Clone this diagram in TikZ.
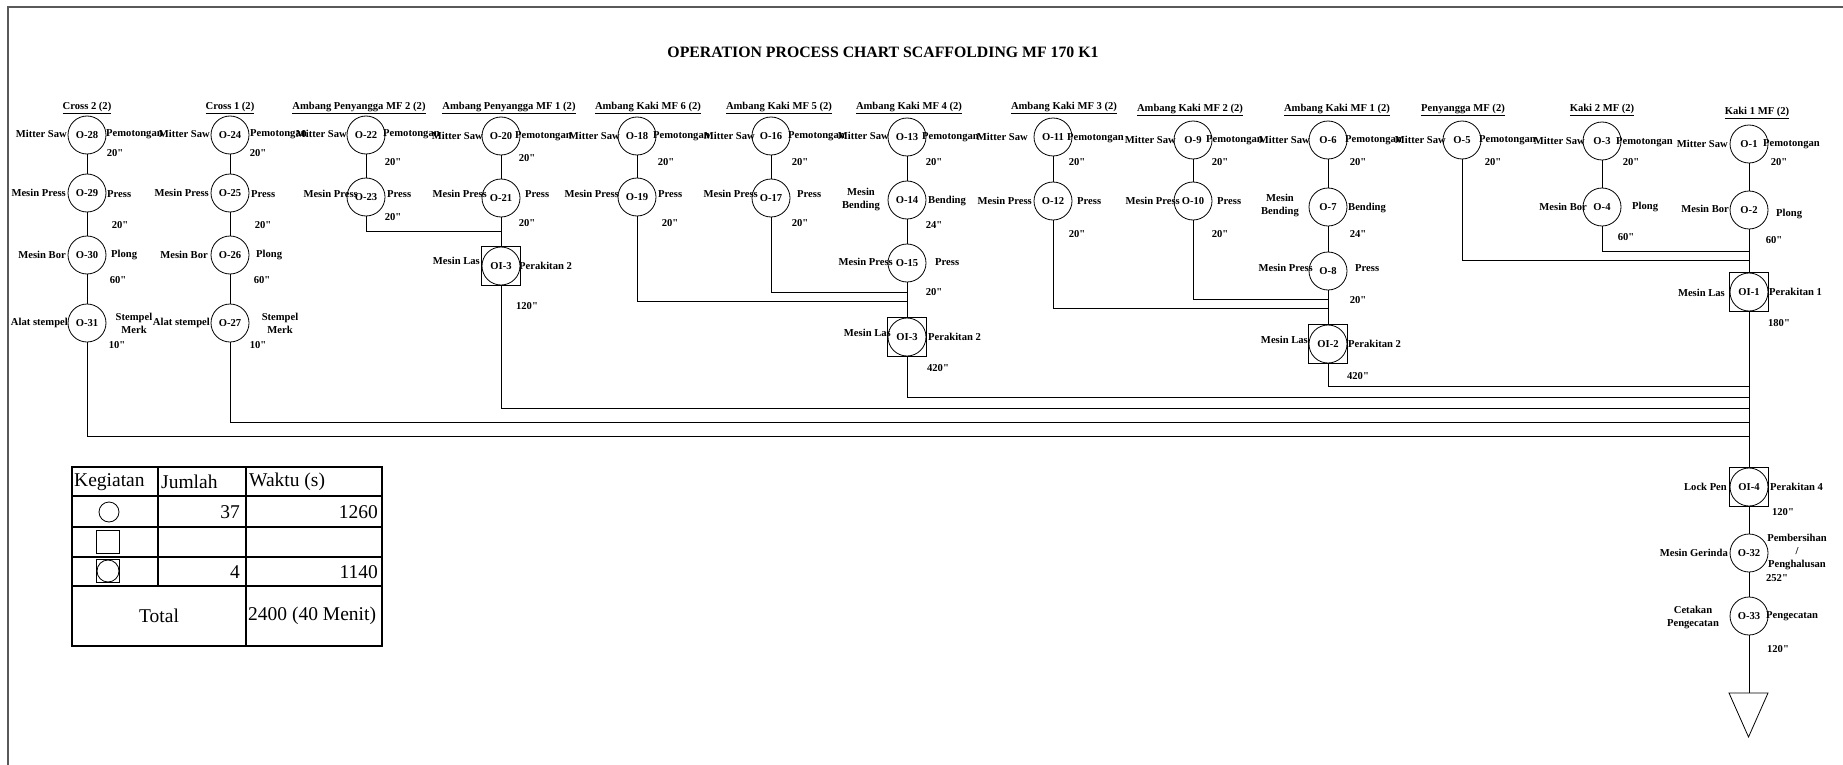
\documentclass[tikz,border=0pt]{standalone}
\usepackage{fontspec}
\setmainfont{Liberation Serif}[Ligatures=TeXOff]
\usetikzlibrary{positioning, calc}

\begin{document}
\begin{tikzpicture}[x=1pt, y=-1pt,
    op/.style={circle, draw, line width=0.8pt, minimum size=38pt, inner sep=0pt, font=\bfseries\fontsize{10.6}{13}\selectfont},
    opins/.style={rectangle, draw, line width=0.8pt, minimum size=39pt, inner sep=0pt, font=\bfseries\fontsize{10.6}{13}\selectfont,
        path picture={\draw[line width=0.8pt] (path picture bounding box.center) circle (19pt);}},
    lbl/.style={font=\bfseries\fontsize{10.6}{13}\selectfont, inner sep=0pt, align=center},
    flow/.style={line width=0.8pt},
    tab/.style={font=\fontsize{19.5}{22}\selectfont, inner sep=0pt}]
    \useasboundingbox (0,0) rectangle (1843,765);
    % Frame
    \draw[black!65, line width=1.5pt] (8,800) -- (8,7) -- (1900,7);
    \node[font=\bfseries\fontsize{15.8}{18}\selectfont] (title) at (883,52) {OPERATION PROCESS CHART SCAFFOLDING MF 170 K1};

    % Cross 2
    \node[lbl] (hc2) at (87,108) {\underline{Cross 2 (2)}};
    \node[op] (o28) at (87,135) {O-28};
    \node[op] (o29) at (87,193) {O-29};
    \node[op] (o30) at (87,255) {O-30};
    \node[op] (o31) at (87,323) {O-31};
    \node[lbl, anchor=east] (o28l) at (67,134) {Mitter Saw};
    \node[lbl, anchor=west] (o28r) at (106,134) {Pemotongan};
    \node[lbl] (o28t) at (115,153) {20"};
    \node[lbl, anchor=east] (o29l) at (66,193) {Mesin Press};
    \node[lbl, anchor=west] (o29r) at (107,194) {Press};
    \node[lbl] (o29t) at (120,225) {20"};
    \node[lbl, anchor=east] (o30l) at (66,255) {Mesin Bor};
    \node[lbl, anchor=west] (o30r) at (111,255) {Plong};
    \node[lbl] (o30t) at (118,280) {60"};
    \node[lbl, anchor=east] (o31l) at (68,323) {Alat stempel};
    \node[lbl] (o31r) at (134,323) {Stempel\\Merk};
    \node[lbl] (o31t) at (117,345) {10"};

    % Cross 1
    \node[lbl] (hc1) at (230,108) {\underline{Cross 1 (2)}};
    \node[op] (o24) at (230,135) {O-24};
    \node[op] (o25) at (230,193) {O-25};
    \node[op] (o26) at (230,255) {O-26};
    \node[op] (o27) at (230,323) {O-27};
    \node[lbl, anchor=east] (o24l) at (210,134) {Mitter Saw};
    \node[lbl, anchor=west] (o24r) at (250,134) {Pemotongan};
    \node[lbl] (o24t) at (258,153) {20"};
    \node[lbl, anchor=east] (o25l) at (209,193) {Mesin Press};
    \node[lbl, anchor=west] (o25r) at (251,194) {Press};
    \node[lbl] (o25t) at (263,225) {20"};
    \node[lbl, anchor=east] (o26l) at (208,255) {Mesin Bor};
    \node[lbl, anchor=west] (o26r) at (256,255) {Plong};
    \node[lbl] (o26t) at (262,280) {60"};
    \node[lbl, anchor=east] (o27l) at (210,323) {Alat stempel};
    \node[lbl] (o27r) at (280,323) {Stempel\\Merk};
    \node[lbl] (o27t) at (258,345) {10"};

    % Ambang Penyangga MF 2
    \node[lbl] (hap2) at (359,108) {\underline{Ambang Penyangga MF 2 (2)}};
    \node[op] (o22) at (366,135) {O-22};
    \node[op] (o23) at (366,197) {O-23};
    \node[lbl, anchor=east] (o22l) at (347,134) {Mitter Saw};
    \node[lbl, anchor=west] (o22r) at (383,134) {Pemotongan};
    \node[lbl] (o22t) at (393,162) {20"};
    \node[lbl, anchor=east] (o23l) at (358,194) {Mesin Press};
    \node[lbl, anchor=west] (o23r) at (387,194) {Press};
    \node[lbl] (o23t) at (393,217) {20"};

    % Ambang Penyangga MF 1
    \node[lbl] (hap1) at (509,108) {\underline{Ambang Penyangga MF 1 (2)}};
    \node[op] (o20) at (501,136) {O-20};
    \node[op] (o21) at (501,198) {O-21};
    \node[opins] (oi3a) at (501,266) {OI-3};
    \node[lbl, anchor=east] (o20l) at (483,136) {Mitter Saw};
    \node[lbl, anchor=west] (o20r) at (515,136) {Pemotongan};
    \node[lbl] (o20t) at (527,158) {20"};
    \node[lbl, anchor=east] (o21l) at (487,194) {Mesin Press};
    \node[lbl, anchor=west] (o21r) at (525,194) {Press};
    \node[lbl] (o21t) at (527,223) {20"};
    \node[lbl, anchor=east] (oi3al) at (480,261) {Mesin Las};
    \node[lbl, anchor=west] (oi3ar) at (519,266) {Perakitan 2};
    \node[lbl] (oi3at) at (527,306) {120"};

    % Ambang Kaki MF 6
    \node[lbl] (hak6) at (648,108) {\underline{Ambang Kaki MF 6 (2)}};
    \node[op] (o18) at (637,136) {O-18};
    \node[op] (o19) at (637,197) {O-19};
    \node[lbl, anchor=east] (o18l) at (620,136) {Mitter Saw};
    \node[lbl, anchor=west] (o18r) at (653,136) {Pemotongan};
    \node[lbl] (o18t) at (666,162) {20"};
    \node[lbl, anchor=east] (o19l) at (619,194) {Mesin Press};
    \node[lbl, anchor=west] (o19r) at (658,194) {Press};
    \node[lbl] (o19t) at (670,223) {20"};

    % Ambang Kaki MF 5
    \node[lbl] (hak5) at (779,108) {\underline{Ambang Kaki MF 5 (2)}};
    \node[op] (o16) at (771,136) {O-16};
    \node[op] (o17) at (771,198) {O-17};
    \node[lbl, anchor=east] (o16l) at (755,136) {Mitter Saw};
    \node[lbl, anchor=west] (o16r) at (788,136) {Pemotongan};
    \node[lbl] (o16t) at (800,162) {20"};
    \node[lbl, anchor=east] (o17l) at (758,194) {Mesin Press};
    \node[lbl, anchor=west] (o17r) at (797,194) {Press};
    \node[lbl] (o17t) at (800,223) {20"};

    % Ambang Kaki MF 4
    \node[lbl] (hak4) at (909,108) {\underline{Ambang Kaki MF 4 (2)}};
    \node[op] (o13) at (907,137) {O-13};
    \node[op] (o14) at (907,200) {O-14};
    \node[op] (o15) at (907,263) {O-15};
    \node[opins] (oi3b) at (907,337) {OI-3};
    \node[lbl, anchor=east] (o13l) at (889,136) {Mitter Saw};
    \node[lbl, anchor=west] (o13r) at (922,137) {Pemotongan};
    \node[lbl] (o13t) at (934,162) {20"};
    \node[lbl] (o14l) at (861,199) {Mesin\\Bending};
    \node[lbl, anchor=west] (o14r) at (928,201) {Bending};
    \node[lbl] (o14t) at (934,225) {24"};
    \node[lbl, anchor=east] (o15l) at (893,262) {Mesin Press};
    \node[lbl, anchor=west] (o15r) at (935,262) {Press};
    \node[lbl] (o15t) at (934,292) {20"};
    \node[lbl, anchor=east] (oi3bl) at (891,333) {Mesin Las};
    \node[lbl, anchor=west] (oi3br) at (928,337) {Perakitan 2};
    \node[lbl] (oi3bt) at (938,368) {420"};

    % Ambang Kaki MF 3
    \node[lbl] (hak3) at (1064,108) {\underline{Ambang Kaki MF 3 (2)}};
    \node[op] (o11) at (1053,137) {O-11};
    \node[op] (o12) at (1053,201) {O-12};
    \node[lbl, anchor=east] (o11l) at (1028,137) {Mitter Saw};
    \node[lbl, anchor=west] (o11r) at (1067,138) {Pemotongan};
    \node[lbl] (o11t) at (1077,162) {20"};
    \node[lbl, anchor=east] (o12l) at (1032,201) {Mesin Press};
    \node[lbl, anchor=west] (o12r) at (1077,201) {Press};
    \node[lbl] (o12t) at (1077,234) {20"};

    % Ambang Kaki MF 2
    \node[lbl] (hak2) at (1190,110) {\underline{Ambang Kaki MF 2 (2)}};
    \node[op] (o9) at (1193,140) {O-9};
    \node[op] (o10) at (1193,201) {O-10};
    \node[lbl, anchor=east] (o9l) at (1176,140) {Mitter Saw};
    \node[lbl, anchor=west] (o9r) at (1206,140) {Pemotongan};
    \node[lbl] (o9t) at (1220,162) {20"};
    \node[lbl, anchor=east] (o10l) at (1180,201) {Mesin Press};
    \node[lbl, anchor=west] (o10r) at (1217,201) {Press};
    \node[lbl] (o10t) at (1220,234) {20"};

    % Ambang Kaki MF 1
    \node[lbl] (hak1) at (1337,110) {\underline{Ambang Kaki MF 1 (2)}};
    \node[op] (o6) at (1328,140) {O-6};
    \node[op] (o7) at (1328,207) {O-7};
    \node[op] (o8) at (1328,271) {O-8};
    \node[opins] (oi2) at (1328,344) {OI-2};
    \node[lbl, anchor=east] (o6l) at (1310,140) {Mitter Saw};
    \node[lbl, anchor=west] (o6r) at (1345,140) {Pemotongan};
    \node[lbl] (o6t) at (1358,162) {20"};
    \node[lbl] (o7l) at (1280,205) {Mesin\\Bending};
    \node[lbl, anchor=west] (o7r) at (1348,208) {Bending};
    \node[lbl] (o7t) at (1358,234) {24"};
    \node[lbl, anchor=east] (o8l) at (1313,268) {Mesin Press};
    \node[lbl, anchor=west] (o8r) at (1355,268) {Press};
    \node[lbl] (o8t) at (1358,300) {20"};
    \node[lbl, anchor=east] (oi2l) at (1308,340) {Mesin Las};
    \node[lbl, anchor=west] (oi2r) at (1348,344) {Perakitan 2};
    \node[lbl] (oi2t) at (1358,376) {420"};

    % Penyangga MF
    \node[lbl] (hp) at (1463,110) {\underline{Penyangga MF (2)}};
    \node[op] (o5) at (1462,140) {O-5};
    \node[lbl, anchor=east] (o5l) at (1446,140) {Mitter Saw};
    \node[lbl, anchor=west] (o5r) at (1479,140) {Pemotongan};
    \node[lbl] (o5t) at (1493,162) {20"};

    % Kaki 2 MF
    \node[lbl] (hk2) at (1602,110) {\underline{Kaki 2 MF (2)}};
    \node[op] (o3) at (1602,141) {O-3};
    \node[op] (o4) at (1602,207) {O-4};
    \node[lbl, anchor=east] (o3l) at (1585,141) {Mitter Saw};
    \node[lbl, anchor=west] (o3r) at (1616,142) {Pemotongan};
    \node[lbl] (o3t) at (1631,162) {20"};
    \node[lbl, anchor=east] (o4l) at (1587,207) {Mesin Bor};
    \node[lbl, anchor=west] (o4r) at (1632,207) {Plong};
    \node[lbl] (o4t) at (1626,237) {60"};

    % Kaki 1 MF and final steps
    \node[lbl] (hk1) at (1757,113) {\underline{Kaki 1 MF (2)}};
    \node[op] (o1) at (1749,144) {O-1};
    \node[op] (o2) at (1749,210) {O-2};
    \node[opins] (oi1) at (1749,292) {OI-1};
    \node[opins] (oi4) at (1749,487) {OI-4};
    \node[op] (o32) at (1749,553) {O-32};
    \node[op] (o33) at (1749,616) {O-33};
    \node[lbl, anchor=east] (o1l) at (1728,144) {Mitter Saw};
    \node[lbl, anchor=west] (o1r) at (1763,144) {Pemotongan};
    \node[lbl] (o1t) at (1779,162) {20"};
    \node[lbl, anchor=east] (o2l) at (1729,209) {Mesin Bor};
    \node[lbl, anchor=west] (o2r) at (1776,214) {Plong};
    \node[lbl] (o2t) at (1774,240) {60"};
    \node[lbl, anchor=east] (oi1l) at (1725,293) {Mesin Las};
    \node[lbl, anchor=west] (oi1r) at (1769,292) {Perakitan 1};
    \node[lbl] (oi1t) at (1779,323) {180"};
    \node[lbl, anchor=east] (oi4l) at (1727,487) {Lock Pen};
    \node[lbl, anchor=west] (oi4r) at (1770,487) {Perakitan 4};
    \node[lbl] (oi4t) at (1783,512) {120"};
    \node[lbl, anchor=east] (o32l) at (1728,553) {Mesin Gerinda};
    \node[lbl] (o32r) at (1797,552) {Pembersihan\\/\\Penghalusan};
    \node[lbl] (o32t) at (1777,578) {252"};
    \node[lbl] (o33l) at (1693,617) {Cetakan\\Pengecatan};
    \node[lbl, anchor=west] (o33r) at (1766,616) {Pengecatan};
    \node[lbl] (o33t) at (1778,649) {120"};
    % Storage
    \coordinate (store) at (1749,693);
    \draw[flow] (1729,693) -- (1768,693) -- (1748.5,737) -- cycle;

    % Joins
    \coordinate (j23) at (501,231);
    \coordinate (j17) at (907,292);
    \coordinate (j19) at (907,301);
    \coordinate (j10) at (1328,299);
    \coordinate (j12) at (1328,308);
    \coordinate (j4) at (1749,251);
    \coordinate (j5) at (1749,260);
    \coordinate (joi2) at (1749,386);
    \coordinate (joi3b) at (1749,397);
    \coordinate (joi3a) at (1749,408);
    \coordinate (j27) at (1749,422);
    \coordinate (j31) at (1749,436);

    % Flow lines
    \draw[flow] (o28) -- (o29) -- (o30) -- (o31);
    \draw[flow] (o24) -- (o25) -- (o26) -- (o27);
    \draw[flow] (o22) -- (o23);
    \draw[flow] (o20) -- (o21) -- (oi3a);
    \draw[flow] (o18) -- (o19);
    \draw[flow] (o16) -- (o17);
    \draw[flow] (o13) -- (o14) -- (o15) -- (oi3b);
    \draw[flow] (o11) -- (o12);
    \draw[flow] (o9) -- (o10);
    \draw[flow] (o6) -- (o7) -- (o8) -- (oi2);
    \draw[flow] (o3) -- (o4);
    \draw[flow] (o1) -- (o2) -- (oi1) -- (oi4) -- (o32) -- (o33) -- (store);
    \draw[flow] (o23) |- (j23);
    \draw[flow] (o17) |- (j17);
    \draw[flow] (o19) |- (j19);
    \draw[flow] (o10) |- (j10);
    \draw[flow] (o12) |- (j12);
    \draw[flow] (o4) |- (j4);
    \draw[flow] (o5) |- (j5);
    \draw[flow] (oi2) |- (joi2);
    \draw[flow] (oi3b) |- (joi3b);
    \draw[flow] (oi3a) |- (joi3a);
    \draw[flow] (o27) |- (j27);
    \draw[flow] (o31) |- (j31);

    % Summary table
    \draw[line width=1.3pt] (72,467) rectangle (382,646);
    \draw[line width=1.3pt] (72,496) -- (382,496);
    \draw[line width=1.3pt] (72,527) -- (382,527);
    \draw[line width=1.3pt] (72,557) -- (382,557);
    \draw[line width=1.3pt] (72,586) -- (382,586);
    \draw[line width=1.3pt] (158,467) -- (158,586);
    \draw[line width=1.3pt] (246,467) -- (246,646);
    \node[tab, anchor=west] (tkeg) at (74,482) {Kegiatan};
    \node[tab, anchor=west] (tjml) at (161,482) {Jumlah};
    \node[tab, anchor=west] (twkt) at (249,482) {Waktu (s)};
    \node[circle, draw, line width=0.8pt, minimum size=20pt, inner sep=0pt] (sop) at (109,512) {};
    \node[tab, anchor=east] (jop) at (240,512) {37};
    \node[tab, anchor=east] (wop) at (378,512) {1260};
    \node[draw, line width=1pt, minimum size=23pt, inner sep=0pt] (sins) at (108,542) {};
    \node[draw, line width=1pt, minimum size=23pt, inner sep=0pt,
        path picture={\draw[line width=0.8pt] (path picture bounding box.center) circle (11pt);}] (sgab) at (108,571) {};
    \node[tab, anchor=east] (jgab) at (240,572) {4};
    \node[tab, anchor=east] (wgab) at (378,572) {1140};
    \node[tab] (ttot) at (159,616) {Total};
    \node[tab, anchor=west] (wtot) at (248,616) {2400 (40 Menit)};
\end{tikzpicture}
\end{document}
